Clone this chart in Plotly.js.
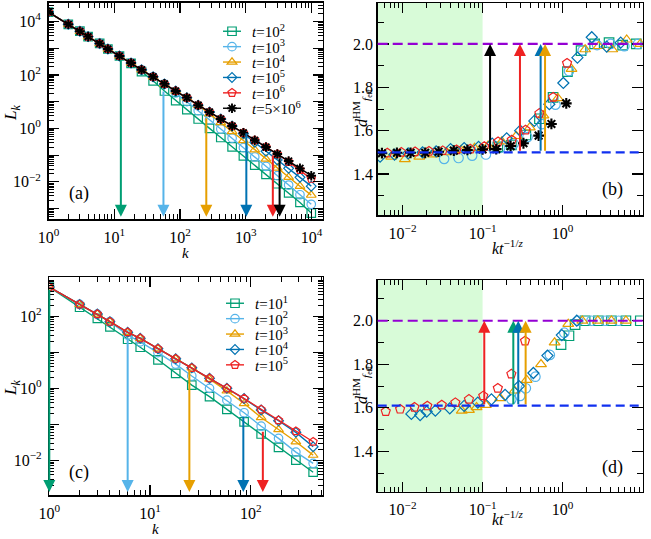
<!DOCTYPE html>
<html><head><meta charset="utf-8">
<script src="https://cdn.plot.ly/plotly-3.0.1.min.js"></script>
<style>html,body{margin:0;padding:0;background:#fff}#plot{width:651px;height:539px}</style>
</head><body><div id="plot"></div>
<script>
// ---------- Panel (a): L_k vs k ----------
const kA = [1,2,3,4,6,8,12,18,26,39,58,86,127,189,281,417,620,921,1370,2030,3020,4490,6670,9910];
const La_t1e2 = [2.24e4,7.8e3,4.3e3,2.7e3,1.5e3,930,510,269,132,60,25,11,5.0,2.24,1.0,0.457,0.204,0.093,0.042,0.019,0.0085,0.0039,0.0017,0.00068];
const La_t1e3 = [2.24e4,7.8e3,4.3e3,2.7e3,1.5e3,930,510,280,155,85,45,21,10,4.6,2.1,0.95,0.43,0.19,0.085,0.038,0.017,0.0076,0.0033,0.00145];
const La_t1e4 = [2.24e4,7.8e3,4.3e3,2.7e3,1.5e3,930,510,280,155,85,46,25,14.1,7.4,3.5,1.66,0.76,0.35,0.16,0.072,0.033,0.015,0.0069,0.0032];
const La_t1e5 = [2.24e4,7.8e3,4.3e3,2.7e3,1.5e3,930,510,280,155,85,46,25,14.1,7.4,4.1,2.24,1.23,0.63,0.30,0.14,0.066,0.032,0.0148,0.0069];
const La_t1e6 = [2.24e4,7.8e3,4.3e3,2.7e3,1.5e3,930,510,280,155,85,46,25,14.1,7.4,4.1,2.24,1.23,0.68,0.36,0.20,0.11,0.056,0.028,0.013];
const La_t5e6 = [2.24e4,7.8e3,4.3e3,2.7e3,1.5e3,930,510,280,155,85,46,25,14.1,7.4,4.1,2.24,1.23,0.68,0.36,0.20,0.11,0.060,0.032,0.017];
const arrowA_k = [12.6,56,251,1020,2580,3270];
const arrowA_L = [420,27,2.7,0.75,0.109,0.086];

// ---------- Panel (c): L_k vs k ----------
const kC = [1,2,3,4,6,8,12,18,26,39,58,86,127,189,281,417];
const Lc_t1e1 = [646,178,87,51,23,13.8,6.2,2.6,1.23,0.59,0.26,0.117,0.054,0.023,0.0102,0.0047];
const Lc_t1e2 = [646,214,115,71,30,19.5,9.8,4.7,2.2,1.0,0.47,0.21,0.089,0.041,0.017,0.0083];
const Lc_t1e3 = [646,214,115,71,36,24.5,12.6,6.6,3.7,1.8,0.85,0.38,0.155,0.072,0.033,0.014];
const Lc_t1e4 = [646,214,115,71,36,24.5,12.6,6.6,3.7,1.9,1.0,0.52,0.25,0.126,0.060,0.024];
const Lc_t1e5 = [646,214,115,71,36,24.5,12.6,6.6,3.7,1.9,1.0,0.52,0.26,0.13,0.065,0.033];
const arrowC_k = [1,6,24.6,84.5,132];
const arrowC_L = [600,27,3.6,0.18,0.069];

// ---------- Panel (b): d_eff vs k t^{-1/z} ----------
const xb_t1e2 = [0.155,0.229,0.347,0.513,0.759,1.148,1.70,2.51,3.80,5.62,8.32];
const db_t1e2 = [1.525,1.534,1.58,1.655,1.754,1.872,1.969,2.0,2.006,1.995,2.0];
const xb_t1e3 = [0.0331,0.0501,0.0741,0.110,0.166,0.245,0.363,0.550,0.813,1.20,1.78,2.69,3.98,5.89,8.71];
const db_t1e3 = [1.47,1.474,1.485,1.49,1.52,1.54,1.57,1.63,1.72,1.875,1.97,1.995,2.0,1.99,2.0];
const xb_t1e4 = [0.00724,0.0107,0.0162,0.0240,0.0355,0.0537,0.0794,0.117,0.174,0.263,0.389,0.575,0.871,1.29,1.91,2.82,4.17,6.31,9.33];
const db_t1e4 = [1.48,1.468,1.48,1.49,1.50,1.51,1.52,1.53,1.55,1.575,1.615,1.67,1.75,1.885,1.975,1.99,1.975,2.02,2.0];
const xb_t1e5 = [0.00525,0.00794,0.01175,0.0178,0.0263,0.0398,0.0589,0.0891,0.132,0.200,0.295,0.443,0.682,1.02,1.53,2.31,3.55,5.31];
const db_t1e5 = [1.48,1.49,1.495,1.50,1.505,1.515,1.52,1.525,1.54,1.565,1.60,1.645,1.722,1.82,1.937,2.031,1.988,2.006];
const xb_t1e6 = [0.00646,0.00966,0.01435,0.0214,0.0318,0.0473,0.0703,0.105,0.156,0.232,0.344,0.513,0.762,1.135];
const db_t1e6 = [1.497,1.50,1.503,1.505,1.508,1.512,1.515,1.527,1.549,1.557,1.603,1.68,1.754,1.911];
const xb_t5e6 = [0.00553,0.00851,0.0126,0.0192,0.0282,0.0437,0.0646,0.100,0.148,0.224,0.324,0.501,0.724,1.11];
const db_t5e6 = [1.496,1.498,1.498,1.498,1.503,1.508,1.511,1.514,1.515,1.529,1.542,1.577,1.631,1.726];
const arrowB_x = [0.124,0.293,0.531,0.603];
const arrowB_col = ['#000000','#ee2222','#0072B2','#E69F00'];
const dB_low = 1.5, dB_high = 2.0;

// ---------- Panel (d) ----------
const xd_t1e1 = [0.955,1.20,1.43,1.91,2.79,4.07,6.17,9.33];
const dd_t1e1 = [1.89,1.931,1.982,2.0,2.0,2.0,2.0,2.0];
const xd_t1e2 = [0.229,0.295,0.347,0.457,0.692,1.047,1.57,2.29,3.39,5.01];
const dd_t1e2 = [1.639,1.655,1.69,1.743,1.843,1.945,2.0,2.0,2.0,2.0];
const xd_t1e3 = [0.0550,0.0676,0.0841,0.110,0.166,0.251,0.355,0.537,0.794,1.175,1.76,2.75,4.07,6.17];
const dd_t1e3 = [1.587,1.59,1.603,1.613,1.644,1.679,1.728,1.80,1.90,1.985,2.0,2.0,2.0,2.0];
const xd_t1e4 = [0.0129,0.0166,0.0200,0.0257,0.0389,0.0589,0.0871,0.129,0.191,0.285,0.431,0.646,0.977,1.50];
const dd_t1e4 = [1.572,1.567,1.583,1.587,1.598,1.609,1.624,1.639,1.66,1.70,1.76,1.84,1.934,2.0];
const xd_t1e5 = [0.00617,0.00933,0.0141,0.0204,0.0309,0.0457,0.0676,0.102,0.155,0.229,0.339];
const dd_t1e5 = [1.583,1.594,1.603,1.609,1.613,1.624,1.639,1.655,1.69,1.755,1.907];
const arrowD_x = [0.105,0.242,0.279,0.345];
const arrowD_col = ['#ee2222','#009E73','#0072B2','#E69F00'];
const dD_low = 1.61, dD_high = 2.0;
const shadeEnd = 0.1;

const legendA = ['<i>t</i>=10<sup>2</sup>','<i>t</i>=10<sup>3</sup>','<i>t</i>=10<sup>4</sup>','<i>t</i>=10<sup>5</sup>','<i>t</i>=10<sup>6</sup>','<i>t</i>=5×10<sup>6</sup>'];
const legendC = ['<i>t</i>=10<sup>1</sup>','<i>t</i>=10<sup>2</sup>','<i>t</i>=10<sup>3</sup>','<i>t</i>=10<sup>4</sup>','<i>t</i>=10<sup>5</sup>'];

// ---------- styling ----------
const GREEN='#009E73', SKY='#56B4E9', ORANGE='#E69F00', BLUE='#0072B2', RED='#ee2222', BLACK='#000000';
const FONT = 'Liberation Serif, Times New Roman, serif';
const sym = {sq:'square-open', ci:'circle-open', tr:'triangle-up-open', di:'diamond-open', pe:'pentagon-open', st:'asterisk-open'};
const symSize = {'square-open':8.5,'circle-open':8.5,'triangle-up-open':8.5,'diamond-open':7.5,'pentagon-open':8.5,'asterisk-open':8};

function lineTrace(x, y, color, symbol, name, xa, ya, legend) {
  return {x, y, type:'scatter', mode:'lines+markers', name, xaxis:xa, yaxis:ya,
    legend, showlegend:true,
    line:{color, width:1.4},
    marker:{symbol, size:symSize[symbol], color, line:{color, width: symbol===sym.st ? 1.9 : 1.2}}};
}
function ptTrace(x, y, color, symbol, xa, ya) {
  return {x, y, type:'scatter', mode:'markers', xaxis:xa, yaxis:ya, showlegend:false,
    marker:{symbol, size:symSize[symbol]+1, color, line:{color, width: symbol===sym.st ? 2.1 : 1.2}}};
}

const traces = [
  lineTrace(kA, La_t1e2, GREEN, sym.sq, legendA[0], 'x', 'y', 'legend'),
  lineTrace(kA, La_t1e3, SKY, sym.ci, legendA[1], 'x', 'y', 'legend'),
  lineTrace(kA, La_t1e4, ORANGE, sym.tr, legendA[2], 'x', 'y', 'legend'),
  lineTrace(kA, La_t1e5, BLUE, sym.di, legendA[3], 'x', 'y', 'legend'),
  lineTrace(kA, La_t1e6, RED, sym.pe, legendA[4], 'x', 'y', 'legend'),
  lineTrace(kA, La_t5e6, BLACK, sym.st, legendA[5], 'x', 'y', 'legend'),

  ptTrace(xb_t1e2, db_t1e2, GREEN, sym.sq, 'x2', 'y2'),
  ptTrace(xb_t1e3, db_t1e3, SKY, sym.ci, 'x2', 'y2'),
  ptTrace(xb_t1e4, db_t1e4, ORANGE, sym.tr, 'x2', 'y2'),
  ptTrace(xb_t1e5, db_t1e5, BLUE, sym.di, 'x2', 'y2'),
  ptTrace(xb_t1e6, db_t1e6, RED, sym.pe, 'x2', 'y2'),
  ptTrace(xb_t5e6, db_t5e6, BLACK, sym.st, 'x2', 'y2'),

  lineTrace(kC, Lc_t1e1, GREEN, sym.sq, legendC[0], 'x3', 'y3', 'legend2'),
  lineTrace(kC, Lc_t1e2, SKY, sym.ci, legendC[1], 'x3', 'y3', 'legend2'),
  lineTrace(kC, Lc_t1e3, ORANGE, sym.tr, legendC[2], 'x3', 'y3', 'legend2'),
  lineTrace(kC, Lc_t1e4, BLUE, sym.di, legendC[3], 'x3', 'y3', 'legend2'),
  lineTrace(kC, Lc_t1e5, RED, sym.pe, legendC[4], 'x3', 'y3', 'legend2'),

  ptTrace(xd_t1e1, dd_t1e1, GREEN, sym.sq, 'x4', 'y4'),
  ptTrace(xd_t1e2, dd_t1e2, SKY, sym.ci, 'x4', 'y4'),
  ptTrace(xd_t1e3, dd_t1e3, ORANGE, sym.tr, 'x4', 'y4'),
  ptTrace(xd_t1e4, dd_t1e4, BLUE, sym.di, 'x4', 'y4'),
  ptTrace(xd_t1e5, dd_t1e5, RED, sym.pe, 'x4', 'y4'),
];

const W = 651, H = 539;
const px = v => v / W, py = v => 1 - v / H;

const tickFont = {family: FONT, size: 16, color: '#000'};
function logAxis(domain, range, anchor, tickvals, ticktext) {
  return {type:'log', domain, range, anchor, showline:true, linecolor:'#000', linewidth:1.5, mirror:'ticks',
    ticks:'inside', ticklen:10, tickwidth:1.2, tickcolor:'#000', showgrid:false, zeroline:false,
    tickmode:'array', tickvals, ticktext, tickfont:tickFont, ticklabelstandoff:3,
    minor:{ticks:'inside', ticklen:5, tickwidth:1, tickcolor:'#000', dtick:'D1', showgrid:false}};
}
function linAxis(domain, range, anchor) {
  return {type:'linear', domain, range, anchor, showline:true, linecolor:'#000', linewidth:1.5, mirror:'ticks',
    ticks:'inside', ticklen:11, tickwidth:1.2, tickcolor:'#000', showgrid:false, zeroline:false,
    tickmode:'array', tickvals:[1.4,1.6,1.8,2.0], ticktext:['1.4','1.6','1.8','2.0'], tickfont:tickFont,
    minor:{ticks:'inside', ticklen:6, tickwidth:1, tickcolor:'#000', dtick:0.1, tick0:1.3, showgrid:false}};
}
const pw = n => '10<sup>' + (n < 0 ? '\u2212' + (-n) : n) + '</sup>';

const xaTicks = [1,10,100,1000,10000];
const yaTicks = [1e-3,1e-2,1e-1,1,10,100,1e3,1e4];
const yaText = ['',pw(-2),'',pw(0),'',pw(2),'',pw(4)];
const xbTicks = [0.01,0.1,1,10];
const xcTicks = [1,10,100];
const ycTicks = [1e-2,1e-1,1,10,100];
const ycText = [pw(-2),'',pw(0),'',pw(2)];

const xbRange = [-2.31, 1.0];

const layout = {
  width: W, height: H, margin:{l:0,r:0,t:0,b:0}, paper_bgcolor:'#fff', plot_bgcolor:'rgba(0,0,0,0)',
  font:{family:FONT, color:'#000'},
  xaxis: logAxis([px(48.5), px(322.7)], [0, 4.17], 'y', xaTicks, [pw(0),pw(1),pw(2),pw(3),pw(4)]),
  yaxis: logAxis([py(219.3), py(2.7)], [-3.4, 4.7], 'x', yaTicks, yaText),
  xaxis2: logAxis([px(377.7), px(642.7)], xbRange, 'y2', xbTicks, [pw(-2),pw(-1),pw(0),pw(1)]),
  yaxis2: linAxis([py(215), py(3)], [1.211, 2.189], 'x2'),
  xaxis3: logAxis([px(49.3), px(322.7)], [0, 2.715], 'y3', xcTicks, [pw(0),pw(1),pw(2)]),
  yaxis3: logAxis([py(495), py(277)], [-2.96, 3.09], 'x3', ycTicks, ycText),
  xaxis4: logAxis([px(377.7), px(642.7)], xbRange, 'y4', xbTicks, [pw(-2),pw(-1),pw(0),pw(1)]),
  yaxis4: linAxis([py(491.7), py(280)], [1.215, 2.187], 'x4'),
  legend: {x: px(212), y: py(15), xanchor:'left', yanchor:'top', bgcolor:'rgba(0,0,0,0)', font:{family:FONT, size:15}, tracegroupgap:0},
  legend2: {x: px(215), y: py(287), xanchor:'left', yanchor:'top', bgcolor:'rgba(0,0,0,0)', font:{family:FONT, size:15}, tracegroupgap:0},
  shapes: [],
  annotations: []
};

// shaded regions & dashed levels in (b),(d)
const shadeFrac = (Math.log10(shadeEnd) - xbRange[0]) / (xbRange[1] - xbRange[0]);
[['x2','y2',dB_low,dB_high],['x4','y4',dD_low,dD_high]].forEach(([xa,ya,lo,hi]) => {
  layout.shapes.push({type:'rect', xref:xa+' domain', yref:ya+' domain', x0:0, x1:shadeFrac, y0:0, y1:1,
    fillcolor:'#d8fbd8', line:{width:0}, layer:'below'});
  layout.shapes.push({type:'line', xref:xa+' domain', yref:ya, x0:0, x1:1, y0:hi, y1:hi,
    line:{color:'#9400D3', width:2.2, dash:'10px,5px'}, layer:'above'});
  layout.shapes.push({type:'line', xref:xa+' domain', yref:ya, x0:0, x1:1, y0:lo, y1:lo,
    line:{color:'#1030f0', width:2.2, dash:'9px,5px'}, layer:'above'});
});

// arrows
function arrow(xa, ya, xv, yTip, yStart, color) {
  return {xref:xa, yref:ya, axref:xa, ayref:ya, x:xv, y:yTip, ax:xv, ay:yStart, text:'',
    showarrow:true, arrowhead:2, arrowsize:1.2, arrowwidth:2, arrowcolor:color, standoff:0, startstandoff:0};
}
const colsA = [GREEN, SKY, ORANGE, BLUE, RED, BLACK];
arrowA_k.forEach((k,i) => layout.annotations.push(arrow('x','y', Math.log10(k), layout.yaxis.range[0]+0.1, Math.log10(arrowA_L[i]), colsA[i])));
const colsC = [GREEN, SKY, ORANGE, BLUE, RED];
arrowC_k.forEach((k,i) => layout.annotations.push(arrow('x3','y3', Math.log10(k), layout.yaxis3.range[0]+0.08, Math.log10(arrowC_L[i]), colsC[i])));
arrowB_x.forEach((x,i) => layout.annotations.push(arrow('x2','y2', Math.log10(x), dB_high, dB_low, arrowB_col[i])));
arrowD_x.forEach((x,i) => layout.annotations.push(arrow('x4','y4', Math.log10(x), dD_high, dD_low, arrowD_col[i])));

// labels
function lab(text, x, y, size, angle) {
  return {xref:'paper', yref:'paper', x:px(x), y:py(y), text, showarrow:false, textangle:angle||0,
    font:{family:FONT, size:size||16, color:'#000'}, xanchor:'center', yanchor:'middle'};
}
layout.annotations.push(lab('(a)', 79, 193, 18));
layout.annotations.push(lab('(b)', 612, 190, 18));
layout.annotations.push(lab('(c)', 79, 472, 18));
layout.annotations.push(lab('(d)', 612, 467, 18));
layout.annotations.push(lab('<i>L</i><sub><i>k</i></sub>', 12, 113, 17, -90));
layout.annotations.push(lab('<i>L</i><sub><i>k</i></sub>', 12, 388, 17, -90));
layout.annotations.push(lab('<i>k</i>', 185, 253, 15));
layout.annotations.push(lab('<i>k</i>', 155, 529, 15));
layout.annotations.push(lab('<i>kt</i><sup>\u22121/<i>z</i></sup>', 508, 247, 16));
layout.annotations.push(lab('<i>kt</i><sup>\u22121/<i>z</i></sup>', 508, 518, 16));
layout.annotations.push(lab('<i>d</i><sup>HM</sup><sub><i>f</i><sub>eff</sub></sub>', 362, 108, 16, -90));
layout.annotations.push(lab('<i>d</i><sup>HM</sup><sub><i>f</i><sub>eff</sub></sub>', 362, 385, 16, -90));

// legend entry spacing tightened to the reference's row pitch
const legendPitch = 15.4;
Plotly.newPlot('plot', traces, layout, {staticPlot:true, displayModeBar:false}).then(() => {
  ['legend','legend2'].forEach(id => {
    const lg = document.querySelector('g.' + id);
    if (!lg) return;
    let y0 = null;
    lg.querySelectorAll('g.traces').forEach((it, i) => {
      const tr = it.getAttribute('transform') || '';
      const m = tr.match(/translate\(\s*([-\d.e]+)[\s,]*([-\d.e]+)?\s*\)/);
      const x = m ? parseFloat(m[1]) : 0;
      const y = m && m[2] ? parseFloat(m[2]) : 0;
      if (y0 === null) y0 = y;
      it.setAttribute('transform', 'translate(' + x + ',' + (y0 + i * legendPitch) + ')');
      it.querySelectorAll('path.js-line').forEach(p => p.setAttribute('d', 'M11,0h18'));
    });
  });
});
</script></body></html>
